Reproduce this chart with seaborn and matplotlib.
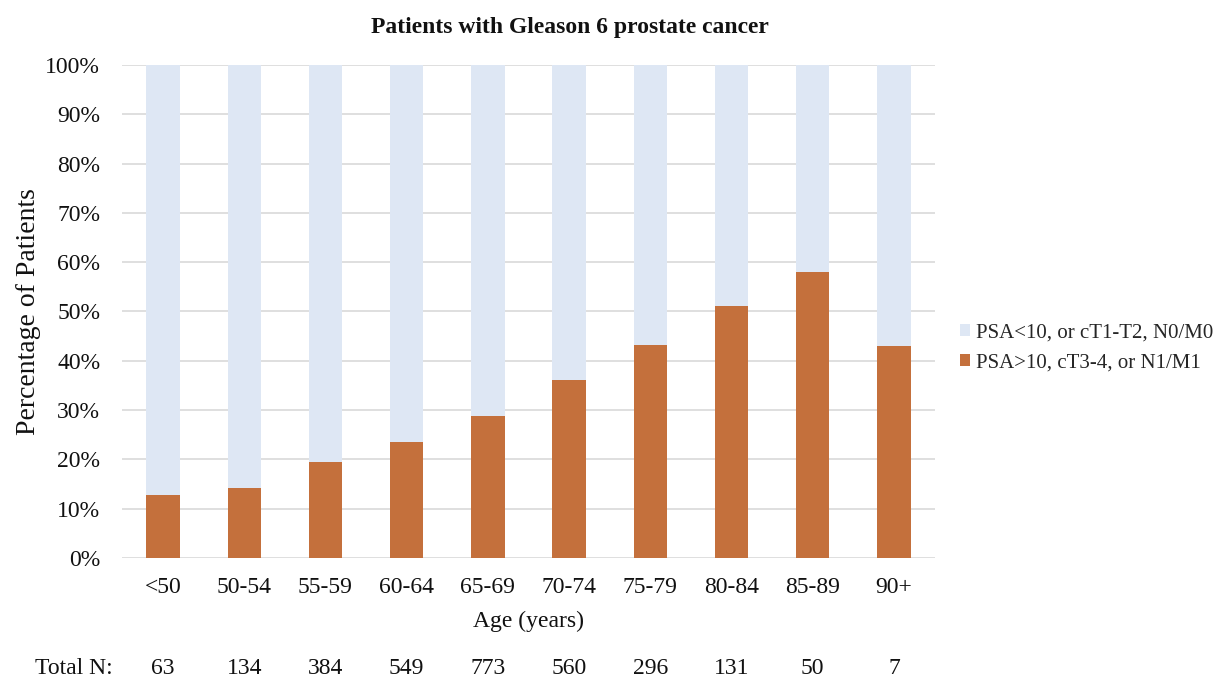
import matplotlib
matplotlib.use("Agg")
import matplotlib.pyplot as plt
from matplotlib.patches import Patch
from matplotlib.ticker import PercentFormatter
import seaborn as sns
import pandas as pd

age_groups = ["<50", "50-54", "55-59", "60-64", "65-69", "70-74", "75-79", "80-84", "85-89", "90+"]
high_risk_pct = [12.7, 14.2, 19.5, 23.5, 28.8, 36.1, 43.2, 51.1, 58.0, 42.9]
total_n = [63, 134, 384, 549, 773, 560, 296, 131, 50, 7]
low_label = "PSA<10, or cT1-T2, N0/M0"
high_label = "PSA>10, cT3-4, or N1/M1"

light_blue = "#DEE7F4"
orange = "#C4703C"
grid_gray = "#D9D9D9"
text_color = "#111111"

sns.set_theme(style="white")
plt.rcParams["font.family"] = ["Liberation Serif", "DejaVu Serif"]

df = pd.DataFrame({"age": age_groups, "high": high_risk_pct, "total": [100.0] * len(age_groups)})

fig = plt.figure(figsize=(12.15, 6.79), dpi=100)
ax = fig.add_axes([0.1008, 0.1782, 0.6684, 0.7261])

sns.barplot(data=df, x="age", y="total", color=light_blue, width=0.41, saturation=1,
            linewidth=0, ax=ax, zorder=2)
sns.barplot(data=df, x="age", y="high", color=orange, width=0.41, saturation=1,
            linewidth=0, ax=ax, zorder=3)

ax.set_xlim(-0.5, len(age_groups) - 0.5)
ax.set_ylim(0, 100)
ax.set_yticks(range(0, 101, 10))
ax.yaxis.set_major_formatter(PercentFormatter(decimals=0))
ax.grid(axis="y", color=grid_gray, linewidth=1.2, zorder=0)
ax.set_axisbelow(True)
for side in ax.spines.values():
    side.set_visible(False)
ax.tick_params(axis="both", length=0, labelsize=17, colors=text_color)
ax.tick_params(axis="x", pad=14)
ax.tick_params(axis="y", pad=16)

ax.set_xlabel("Age (years)", fontsize=17, color=text_color, labelpad=9)
ax.set_ylabel("Percentage of Patients", fontsize=20, color=text_color, labelpad=3)

fig.text(570 / 1215, 1 - 28 / 679, "Patients with Gleason 6 prostate cancer",
         ha="center", va="center", fontsize=17, fontweight="bold", color=text_color)

# Row of sample sizes under each age group
y_counts = 1 - 668 / 679
fig.text(74 / 1215, y_counts, "Total N:", ha="center", va="center", fontsize=17, color=text_color)
for i, n in enumerate(total_n):
    x_disp = ax.transData.transform((i, 0))[0]
    fig.text(x_disp / fig.bbox.width, y_counts, str(n), ha="center", va="center",
             fontsize=17, color=text_color)

handles = [Patch(facecolor=light_blue, edgecolor="none", label=low_label),
           Patch(facecolor=orange, edgecolor="none", label=high_label)]
fig.legend(handles=handles, loc="center left", bbox_to_anchor=(960 / 1215, 1 - 348 / 679),
           frameon=False, fontsize=15, handlelength=0.5, handleheight=0.5,
           handletextpad=0.25, labelspacing=0.55, borderpad=0, borderaxespad=0)

fig.savefig("out.png", dpi=100, facecolor="white")
